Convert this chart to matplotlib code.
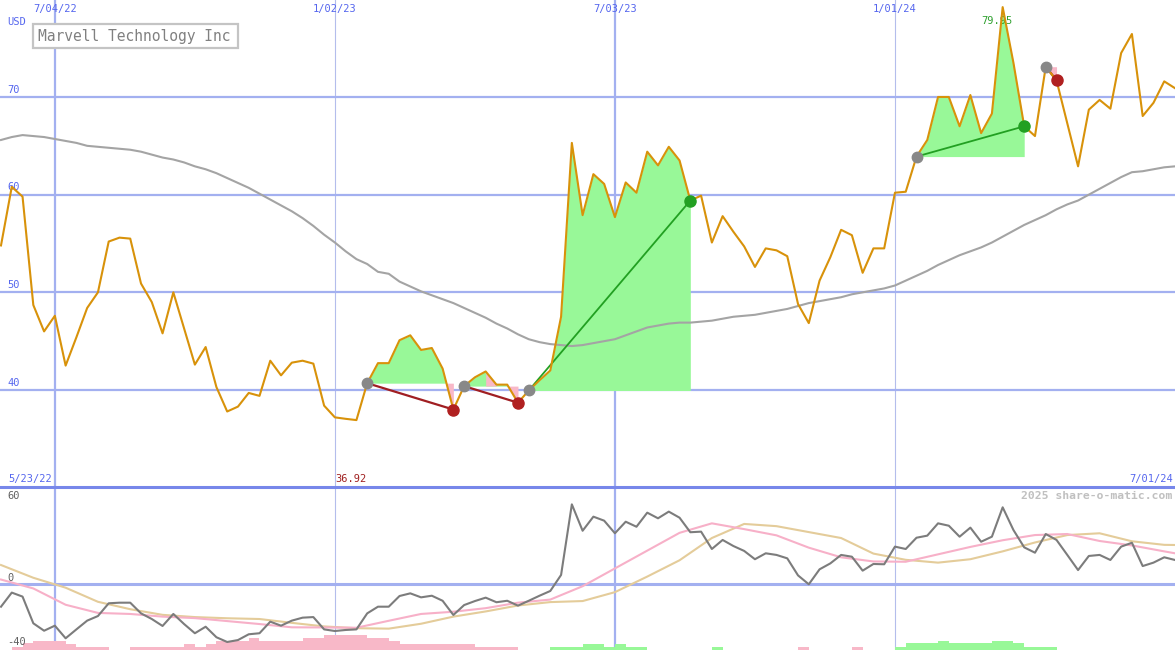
import numpy as np
import matplotlib.pyplot as plt
from matplotlib.patches import Rectangle
from matplotlib.lines import Line2D

# weekly closes (USD), week 0 = 5/30/22
price = [54.8, 60.8, 59.8, 48.7, 46.0, 47.6, 42.5, 45.4, 48.4, 50.0,
         55.2, 55.6, 55.5, 50.9, 49.0, 45.8, 50.0, 46.3, 42.6, 44.4,
         40.3, 37.8, 38.3, 39.7, 39.4, 43.0, 41.5, 42.8, 43.0, 42.7,
         38.4, 37.2, 37.05, 36.92, 40.7, 42.75, 42.75, 45.1, 45.6, 44.1,
         44.3, 42.2, 38.0, 40.4, 41.3, 41.9, 40.55, 40.55, 38.7, 39.95,
         41.0, 42.0, 47.5, 65.3, 57.9, 62.1, 61.1, 57.7, 61.25, 60.2,
         64.4, 63.0, 64.9, 63.5, 59.4, 59.9, 55.1, 57.8, 56.2, 54.7,
         52.6, 54.5, 54.3, 53.7, 48.8, 46.85, 51.2, 53.6, 56.4, 55.85,
         52.0, 54.5, 54.5, 60.2, 60.3, 63.9, 65.6, 70.0, 70.0, 67.0,
         70.2, 66.3, 68.3, 79.2, 73.5, 67.0, 66.0, 73.1, 71.7, 67.3,
         62.9, 68.7, 69.7, 68.8, 74.5, 76.45, 68.05, 69.4, 71.6, 70.9]

# long moving average (grey line in price panel)
ma = [65.6, 65.9, 66.1, 66.0, 65.9, 65.7, 65.5, 65.3, 65.0, 64.9,
      64.8, 64.7, 64.6, 64.4, 64.1, 63.8, 63.6, 63.3, 62.9, 62.6,
      62.2, 61.7, 61.2, 60.7, 60.1, 59.5, 58.9, 58.3, 57.6, 56.8,
      55.9, 55.1, 54.2, 53.4, 52.9, 52.1, 51.9, 51.1, 50.6, 50.1,
      49.7, 49.3, 48.9, 48.4, 47.9, 47.4, 46.8, 46.3, 45.7, 45.2,
      44.9, 44.7, 44.6, 44.5, 44.6, 44.8, 45.0, 45.2, 45.6, 46.0,
      46.4, 46.6, 46.8, 46.9, 46.9, 47.0, 47.1, 47.3, 47.5, 47.6,
      47.7, 47.9, 48.1, 48.3, 48.6, 48.9, 49.1, 49.3, 49.5, 49.8,
      50.0, 50.2, 50.4, 50.7, 51.2, 51.7, 52.2, 52.8, 53.3, 53.8,
      54.2, 54.6, 55.1, 55.7, 56.3, 56.9, 57.4, 57.9, 58.5, 59.0,
      59.4, 60.0, 60.6, 61.2, 61.8, 62.3, 62.4, 62.6, 62.8, 62.9]

# momentum indicator (dark grey, lower panel)
mom = [-15.3, -5.8, -8.5, -26.5, -31.5, -28.1, -36.6, -30.6, -24.7, -21.6,
       -13.0, -12.6, -12.6, -19.8, -23.6, -28.3, -20.2, -27.0, -33.2, -28.8,
       -35.9, -39.1, -37.8, -33.9, -33.2, -25.4, -28.1, -24.7, -22.7, -22.3,
       -30.6, -31.7, -31.0, -30.6, -19.8, -15.3, -15.3, -8.1, -6.3, -9.0,
       -7.9, -11.3, -20.9, -14.2, -11.5, -9.2, -12.3, -11.3, -14.6, -11.3,
       -7.9, -4.7, 6.1, 53.7, 35.9, 45.4, 42.7, 34.2, 42.0, 38.6,
       48.1, 44.3, 48.8, 44.7, 34.9, 35.3, 23.6, 29.7, 25.6, 22.3,
       16.7, 20.7, 19.6, 17.3, 5.8, -0.2, 9.9, 13.9, 19.6, 18.4,
       9.0, 13.5, 13.3, 25.2, 23.6, 31.2, 32.6, 40.9, 39.3, 31.9,
       38.0, 28.5, 31.9, 51.7, 36.4, 24.7, 21.1, 33.7, 29.7, 19.6,
       9.4, 18.9, 19.6, 16.2, 25.2, 27.8, 12.1, 14.4, 18.0, 16.2]

# smoothed signal lines (sampled every 3 weeks)
sig_weeks = [0, 3, 6, 9, 12, 15, 18, 21, 24, 27, 30, 33, 36, 39, 42, 45, 48, 51, 54,
             57, 60, 63, 66, 69, 72, 75, 78, 81, 84, 87, 90, 93, 96, 99, 102, 105, 108, 109]
pink_sig = [3.0, -3.0, -14.0, -19.5, -20.2, -22.0, -23.0, -25.0, -27.0, -29.2, -29.3,
            -29.5, -24.8, -20.2, -18.7, -16.3, -12.6, -10.5, -1.5, 10.5, 22.5, 34.5,
            40.9, 37.0, 32.8, 24.5, 18.0, 15.2, 15.0, 20.0, 25.0, 29.5, 33.0, 33.7,
            29.0, 26.0, 22.0, 20.7]
tan_sig = [12.8, 4.2, -2.5, -12.0, -17.0, -20.8, -22.3, -23.1, -23.6, -26.2, -28.6,
           -29.8, -30.1, -26.8, -22.0, -18.5, -14.5, -12.2, -11.5, -5.5, 5.0, 16.0,
           31.0, 40.5, 39.0, 35.0, 31.0, 20.5, 16.3, 14.4, 16.7, 22.0, 28.0, 33.0,
           34.2, 28.8, 26.4, 26.3]

# weekly histogram at foot of lower panel
hist = ([0, -2.2, -4.5] + [-6] * 3 + [-4] + [-2.2] * 3 + [0] * 2 + [-2.2] * 5 +
        [-4, -2.2, -4] + [-6] * 3 + [-8.3] + [-6] * 4 + [-8.3] * 2 + [-10.1] * 4 +
        [-8.3] * 2 + [-6] + [-4] * 7 + [-2.2] * 4 + [0] * 3 + [2.2] * 3 + [4] * 2 +
        [2.2, 4] + [2.2] * 2 + [0] * 6 + [2.2] + [0] * 7 + [-2.2] + [0] * 4 + [-2.2] +
        [0] * 3 + [2.2] + [4.5] * 3 + [6] + [4.5] * 4 + [6] * 2 + [4.5] + [2.2] * 3 +
        [0] * 12)

# trades: (entry week, exit week)
trades = [(34, 42), (43, 48), (49, 64), (85, 95), (97, 98)]
pink_spans = [(45, 46)]

grid_weeks = [5, 31, 57, 83]
grid_labels = ['7/04/22', '1/02/23', '7/03/23', '1/01/24']
price_levels = [40, 50, 60, 70]

W, H = 1175, 650
weeks = np.arange(len(price))
p = np.array(price)
blue_txt = '#5566ee'
grid_c = '#a3b0f0'
mono = 'DejaVu Sans Mono'

fig = plt.figure(figsize=(W / 100, H / 100), dpi=100, facecolor='white')
ax1 = fig.add_axes([0, 163 / H, 1, 487 / H])
ax2 = fig.add_axes([0, 0, 1, 163 / H])
xlim = (-0.093, 109.0)
for ax in (ax1, ax2):
    ax.set_xlim(*xlim)
    ax.axis('off')
    for wk in grid_weeks:
        thick = wk in (5, 57)
        ax.axvline(wk, color=grid_c if thick else '#b4bdec', lw=1.6 if thick else 0.8, zorder=0)
ax1.set_ylim(30.07, 79.93)
ax2.set_ylim(-44.5, 65.4)

for lv in price_levels:
    ax1.axhline(lv, color=grid_c, lw=1.6, zorder=0)
    ax1.text(7 / W, lv + 0.25, str(lv), transform=ax1.get_yaxis_transform(),
             color=blue_txt, fontsize=7.5, family=mono, va='bottom', ha='left')

# trade fills
green_f, pink_f = '#98f898', '#f8b8c8'
for a, b in trades:
    xs = weeks[a:b + 1]
    ys = p[a:b + 1]
    base = p[a]
    ax1.fill_between(xs, ys, base, where=ys >= base, interpolate=True, color=green_f, lw=0, zorder=1)
    ax1.fill_between(xs, ys, base, where=ys < base, interpolate=True, color=pink_f, lw=0, zorder=1)
for a, b in pink_spans:
    ax1.fill_between(weeks[a:b + 1], p[a:b + 1], p[43], color=pink_f, lw=0, zorder=1)

ax1.plot(weeks, ma, color='#a4a4a4', lw=1.5, zorder=2)

for a, b in trades:
    win = p[b] > p[a]
    ax1.plot([a, b], [p[a], p[b]], color='#22a022' if win else '#a01e22', lw=1.3 if win else 1.6, zorder=3)

ax1.plot(weeks, p, color='#d8920a', lw=1.5, zorder=4)

for a, b in trades:
    win = p[b] > p[a]
    ax1.plot(a, p[a], 'o', color='#888888', ms=7.5, zorder=5)
    ax1.plot(b, p[b], 'o', color='#22a022' if win else '#b02020', ms=8, zorder=5)

# labels on price panel
for wk, lab in zip(grid_weeks, grid_labels):
    ax1.text(wk, 79.0, lab, color=blue_txt, fontsize=7.5, family=mono, ha='center', va='center')
ax1.text(7 / W, 77.7, 'USD', transform=ax1.get_yaxis_transform(), color=blue_txt,
         fontsize=7.5, family=mono, va='center', ha='left')
imax = int(np.argmax(p))
imin = int(np.argmin(p))
ax1.text(imax - 0.55, 77.8, '79.95', color='#2ea02e', fontsize=7.5, family=mono, ha='center', va='center')
ax1.text(imin - 0.5, 30.85, '%.2f' % p[imin], color='#a02020', fontsize=7.5, family=mono,
         ha='center', va='center')
ax1.text(8 / W, 30.85, '5/23/22', transform=ax1.get_yaxis_transform(), color=blue_txt,
         fontsize=7.5, family=mono, ha='left', va='center')
ax1.text(1173 / W, 30.85, '7/01/24', transform=ax1.get_yaxis_transform(), color=blue_txt,
         fontsize=7.5, family=mono, ha='right', va='center')

fig.patches.append(Rectangle((33 / W, 1 - 48 / H), 205 / W, 23.5 / H, transform=fig.transFigure,
                             facecolor='white', edgecolor='#c4c4c4', lw=1.6, zorder=6))
fig.text(38 / W, 1 - 36.5 / H, 'Marvell Technology Inc', color='#808080', fontsize=10.5,
         family=mono, ha='left', va='center', zorder=7)

# lower panel
ax2.axhline(0, color=grid_c, lw=2.2, zorder=0)
h = np.array(hist)
ax2.bar(weeks, np.abs(h), width=1, align='edge', bottom=-44.5,
        color=np.where(h < 0, pink_f, green_f), lw=0, zorder=1)
ax2.plot(sig_weeks, tan_sig, color='#e4cc9a', lw=1.5, zorder=2)
ax2.plot(sig_weeks, pink_sig, color='#f7b0c8', lw=1.5, zorder=2)
ax2.plot(weeks, mom, color='#7c7c7c', lw=1.5, zorder=3)
ax2.text(7 / W, 59.5, '60', transform=ax2.get_yaxis_transform(), color='#606060',
         fontsize=7.5, family=mono, va='center')
ax2.text(7 / W, 4.2, '0', transform=ax2.get_yaxis_transform(), color='#606060',
         fontsize=7.5, family=mono, va='center')
ax2.text(7 / W, -39.3, '-40', transform=ax2.get_yaxis_transform(), color='#606060',
         fontsize=7.5, family=mono, va='center')
ax2.text(1172 / W, 59.3, '2025 share-o-matic.com', transform=ax2.get_yaxis_transform(),
         color='#c0c0c0', fontsize=8.2, family=mono, ha='right', va='center', weight='bold')

fig.lines.append(Line2D([0, 1], [163 / H, 163 / H], transform=fig.transFigure,
                        color='#7787ea', lw=2.2, zorder=8))

fig.savefig('out.png', dpi=100, facecolor='white')
